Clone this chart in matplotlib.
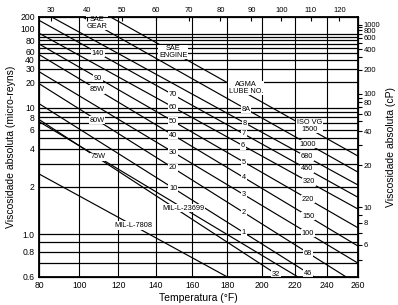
import numpy as np
import matplotlib.pyplot as plt
from matplotlib.ticker import FixedLocator, NullFormatter

plt.rcParams["font.family"] = ["Liberation Sans", "DejaVu Sans"]

CP_PER_UREYN = 6.895

# -----------------------------
# axes / ticks
# -----------------------------
T_LIM = (80, 260)                      # degF
V_LIM = (0.6, 200)                     # micro-reyns
T_TICKS = [80, 100, 120, 140, 160, 180, 200, 220, 240, 260]
T_GRID = [100, 120, 140, 160, 180, 200, 220, 240]
C_TICKS = [30, 40, 50, 60, 70, 80, 90, 100, 110, 120]
V_TICKS = [0.6, 0.8, 1.0, 2, 4, 6, 8, 10, 20, 30, 40, 60, 80, 100, 200]
V_TICK_LABELS = ["0.6", "0.8", "1.0", "2", "4", "6", "8", "10", "20", "30",
                 "40", "60", "80", "100", "200"]
V_GRID = [0.7, 0.8, 0.9, 1, 2, 3, 4, 5, 6, 7, 8, 9, 10,
          20, 30, 40, 50, 60, 70, 80, 90, 100]
CP_TICKS = [4, 6, 8, 10, 20, 40, 60, 80, 100, 200, 400, 600, 800, 1000]
CP_MINOR = [5, 7, 9, 30, 50, 70, 90, 300, 500, 700, 900]

# -----------------------------
# oil lines (ISO VG grades + MIL specs): (T1, v1) -> (T2, v2)
# read where each line meets the frame
# -----------------------------
LINE_NAMES = ["ISO 1500", "ISO 1000", "ISO 680", "ISO 460", "ISO 320", "ISO 220",
              "ISO 150", "ISO 100", "ISO 68", "ISO 46", "ISO 32",
              "MIL-L-23699", "MIL-L-7808"]
LINE_T1 = [116.0, 101.7, 86.2, 80, 80, 80, 80, 80, 80, 80, 80, 80, 80]
LINE_V1 = [200, 200, 200, 174, 104, 69.5, 47.9, 27.5, 19.25, 11.16, 7.55, 7.19, 2.49]
LINE_T2 = [260, 260, 260, 260, 260, 260, 260, 260, 252.4, 232.2, 211.5, 222.1, 180]
LINE_V2 = [3.46, 2.57, 2.06, 1.69, 1.415, 1.086, 0.858, 0.70, 0.6, 0.6, 0.6, 0.6, 0.6]

# -----------------------------
# labels written on the lines (SAE gear, SAE engine, AGMA, ISO VG columns)
# -----------------------------
LABEL_TEXT = ["SAE\nGEAR", "140", "90", "85W", "80W", "75W",
              "SAE\nENGINE", "70", "60", "50", "40", "30", "20", "10",
              "AGMA\nLUBE NO.", "8A", "8", "7", "6", "5", "4", "3", "2", "1",
              "ISO VG\n1500", "1000", "680", "460", "320", "220", "150",
              "100", "68", "46", "32",
              "MIL-L-23699", "MIL-L-7808"]
LABEL_T = [109, 109.5, 109.5, 109, 109, 109.5,
           149.4, 149.4, 149.4, 149.4, 149.4, 149.4, 149.4, 149.4,
           190.8, 190.8, 190.2, 189.6, 189.0, 189.6, 189.6, 189.6, 189.6, 189.6,
           229.3, 228.3, 227.7, 227.7, 228.9, 228.3, 228.3,
           228.3, 228.3, 228.3, 208.7,
           155, 128]
LABEL_V = [155.8, 50.5, 22.6, 16.33, 7.45, 3.40,
           52.3, 14.16, 10.24, 7.26, 5.32, 3.74, 2.77, 1.96,
           17.0, 9.73, 6.95, 5.44, 4.26, 3.09, 2.33, 1.763, 1.340, 1.017,
           6.50, 4.40, 3.40, 2.72, 2.17, 1.645, 1.278,
           1.013, 0.788, 0.626, 0.619,
           1.436, 1.12]


def fahr_fwd(t):
    with np.errstate(all="ignore"):
        return np.log10(np.asarray(t, dtype=float) + 460.0)


def fahr_inv(u):
    return 10.0 ** np.asarray(u, dtype=float) - 460.0


def cels_fwd(c):
    with np.errstate(all="ignore"):
        return np.log10(np.asarray(c, dtype=float) * 1.8 + 492.0)


def cels_inv(u):
    return (10.0 ** np.asarray(u, dtype=float) - 492.0) / 1.8


def cp_fwd(c):
    with np.errstate(all="ignore"):
        return np.log10(np.log10(np.asarray(c, dtype=float) + 0.7))


def cp_inv(g):
    with np.errstate(all="ignore"):
        return 10.0 ** (10.0 ** np.asarray(g, dtype=float)) - 0.7


def visc_fwd(v):
    return cp_fwd(np.asarray(v, dtype=float) * CP_PER_UREYN)


def visc_inv(g):
    return cp_inv(g) / CP_PER_UREYN


fig = plt.figure(figsize=(3.98, 3.05), dpi=100)
ax = fig.add_axes([39 / 398, 28 / 305, 319 / 398, 260 / 305])
ax.set_xscale("function", functions=(fahr_fwd, fahr_inv))
ax.set_yscale("function", functions=(visc_fwd, visc_inv))
ax.set_xlim(*T_LIM)
ax.set_ylim(*V_LIM)

# grid
for t in T_GRID:
    ax.axvline(t, color="black", lw=0.8, zorder=1)
for v in V_GRID:
    ax.axhline(v, color="black", lw=0.9, zorder=1)

# diagonal oil lines
for t1, v1, t2, v2 in zip(LINE_T1, LINE_V1, LINE_T2, LINE_V2):
    ax.plot([t1, t2], [v1, v2], color="black", lw=0.85, zorder=2,
            solid_capstyle="butt")

for s, t, v in zip(LABEL_TEXT, LABEL_T, LABEL_V):
    ax.text(t, v, s, fontsize=5.3, ha="center", va="center", linespacing=0.85,
            zorder=3, bbox=dict(facecolor="white", edgecolor="none", pad=0.6))

ax.xaxis.set_major_locator(FixedLocator(T_TICKS))
ax.set_xticklabels([str(t) for t in T_TICKS])
ax.yaxis.set_major_locator(FixedLocator(V_TICKS))
ax.yaxis.set_minor_locator(FixedLocator([]))
ax.set_yticklabels(V_TICK_LABELS)
ax.tick_params(axis="both", labelsize=6.2, length=0, pad=3)
# the three crowded labels near the top are nudged apart as in the original
ylabels = ax.get_yticklabels()
ylabels[V_TICKS.index(100)].set_va("bottom")
ylabels[V_TICKS.index(60)].set_va("top")
ax.set_xlabel("Temperatura (°F)", fontsize=7.5, labelpad=2)
ax.set_ylabel("Viscosidade absoluta (micro-reyns)", fontsize=7.5, labelpad=3)
for sp in ax.spines.values():
    sp.set_linewidth(1.3)

# right axis in cP
ax_r = ax.twinx()
ax_r.set_yscale("function", functions=(cp_fwd, cp_inv))
ax_r.set_ylim(V_LIM[0] * CP_PER_UREYN, V_LIM[1] * CP_PER_UREYN)
ax_r.yaxis.set_major_locator(FixedLocator(CP_TICKS))
ax_r.yaxis.set_minor_locator(FixedLocator(CP_MINOR))
ax_r.yaxis.set_minor_formatter(NullFormatter())
ax_r.set_yticklabels([str(c) for c in CP_TICKS])
ax_r.tick_params(axis="y", which="major", labelsize=5.5, length=3, width=0.8, pad=1)
ax_r.tick_params(axis="y", which="minor", length=3, width=0.8)
ax_r.set_ylabel("Viscosidade absoluta (cP)", fontsize=7.5, labelpad=4)

# top axis in degC
ax_t = ax.twiny()
ax_t.set_xscale("function", functions=(cels_fwd, cels_inv))
ax_t.set_xlim((T_LIM[0] - 32) / 1.8, (T_LIM[1] - 32) / 1.8)
ax_t.xaxis.set_major_locator(FixedLocator(C_TICKS))
ax_t.xaxis.set_minor_locator(FixedLocator([]))
ax_t.set_xticklabels([str(c) for c in C_TICKS])
ax_t.tick_params(axis="x", labelsize=5.5, length=3, width=0.8, direction="in", pad=2)

fig.savefig("out.png", dpi=100)
